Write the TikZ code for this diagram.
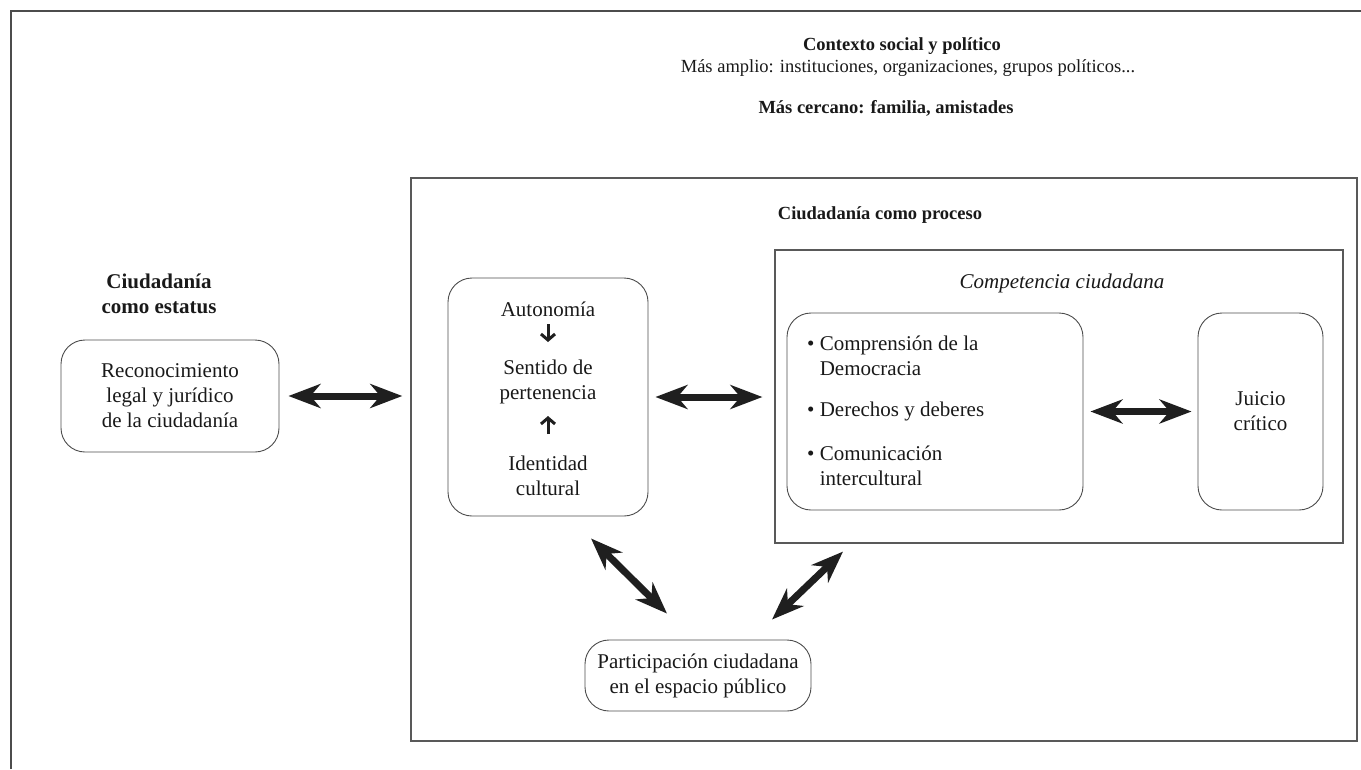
\documentclass[tikz,border=0pt]{standalone}
\usepackage{fontspec}
\setmainfont{Liberation Serif}
\usetikzlibrary{arrows.meta}
\begin{document}
\begin{tikzpicture}[x=1pt,y=-1pt,
  every node/.style={font=\fontsize{21}{25}\selectfont, inner sep=0pt, text=black!90},
  hdr/.style={font=\fontsize{18.5}{22}\selectfont},
  hdrb/.style={font=\fontsize{18.5}{22}\selectfont\bfseries},
  rbox/.style={draw=black!70, line width=0.9pt, rounded corners=24pt, align=center},
  sqbox/.style={draw=black!65, line width=1.4pt},
  frameline/.style={draw=black!70, line width=1.6pt},
  bigarrow/.style={draw=black!88, line width=7pt,
    {Stealth[length=32pt,width=24pt,inset=10pt]}-{Stealth[length=32pt,width=24pt,inset=10pt]}},
  smallarrow/.style={draw=black!88, line width=3pt, -{Straight Barb[length=6pt,width=14pt]}},
  lbl/.style={align=center},
]
\useasboundingbox (0,0) rectangle (1361,769);
% outer frame (top and left)
\draw[frameline] (11,769) -- (11,11) -- (1361,11);

% header
\node[lbl, hdrb] (contexto) at (902,46) {Contexto social y político};
\node[lbl, hdr] (amplio) at (908,68) {Más amplio: instituciones, organizaciones, grupos políticos...};
\node[lbl, hdrb] (cercano) at (886,108) {Más cercano: familia, amistades};

% status side
\node[lbl, font=\fontsize{21}{25}\selectfont\bfseries] (estatus) at (159,294) {Ciudadanía\\como estatus};
\node[rbox, minimum width=218pt, minimum height=112pt] (recon) at (170,396)
  {Reconocimiento\\legal y jurídico\\de la ciudadanía};

% process box
\node[sqbox, minimum width=946pt, minimum height=563pt] (proceso) at (884,459.5) {};
\node[lbl, hdrb] (procesolbl) at (880,215) {Ciudadanía como proceso};

% autonomia box
\node[rbox, minimum width=200pt, minimum height=238pt] (auto) at (548,397) {};
\node[lbl] (autonomia) at (548,309) {Autonomía};
\node[lbl] (sentido) at (548,382) {Sentido de\\pertenencia};
\node[lbl] (identidad) at (548,476) {Identidad\\cultural};
\draw[smallarrow, shorten <=15pt, shorten >=40pt] (autonomia.center) -- (sentido.center);
\draw[smallarrow, shorten <=42pt, shorten >=34pt] (identidad.center) -- (sentido.center);

% competencia box
\node[sqbox, line width=1.2pt, minimum width=568pt, minimum height=293pt] (comp) at (1059,396.5) {};
\node[lbl, font=\fontsize{21}{25}\selectfont\itshape] (complbl) at (1062,283) {Competencia ciudadana};

\node[rbox, minimum width=296pt, minimum height=197pt] (bullets) at (935,411.5) {};
\node[anchor=west, align=left] (b1) at (807,356) {\textbullet\ Comprensión de la\\\hphantom{\textbullet\ }Democracia};
\node[anchor=west, align=left] (b2) at (807,411) {\textbullet\ Derechos y deberes};
\node[anchor=west, align=left] (b3) at (807,466) {\textbullet\ Comunicación\\\hphantom{\textbullet\ }intercultural};

\node[rbox, minimum width=125pt, minimum height=197pt] (juicio) at (1260.5,411.5) {Juicio\\crítico};

% participacion
\node[rbox, minimum width=226pt, minimum height=71pt] (partic) at (698,675.5)
  {Participación ciudadana\\en el espacio público};

% arrows
\draw[bigarrow, shorten <=9pt, shorten >=8pt] (recon.east) -- (recon.east -| proceso.west);
\draw[bigarrow, shorten <=7pt, shorten >=12pt] (auto.east) -- (auto.east -| comp.west);
\draw[bigarrow, shorten <=7pt, shorten >=6pt] (bullets.east) -- (juicio.west);
\coordinate (d1a) at ([shift={(43,22)}]auto.south);
\coordinate (d1b) at ([shift={(-31,-26)}]partic.north);
\draw[bigarrow] (d1a) -- (d1b);
\coordinate (d2a) at ([shift={(-216,8)}]comp.south);
\coordinate (d2b) at ([shift={(74,-20)}]partic.north);
\draw[bigarrow] (d2a) -- (d2b);
\end{tikzpicture}
\end{document}
